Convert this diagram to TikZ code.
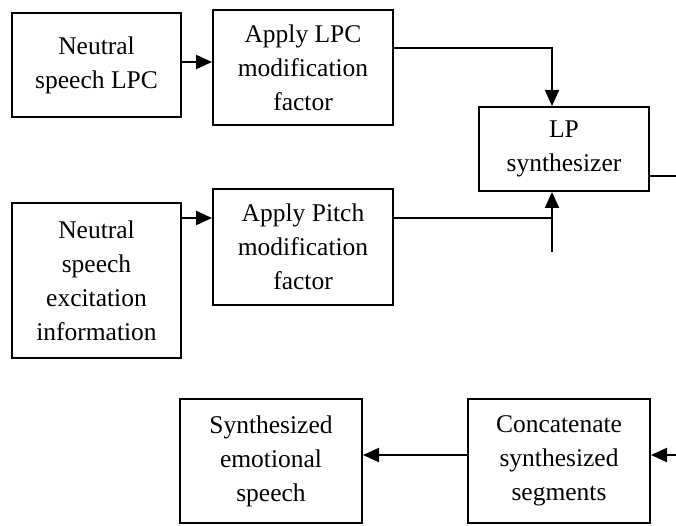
\documentclass[tikz,border=0pt]{standalone}
\usepackage{fontspec}
\setmainfont{Liberation Serif}
\usetikzlibrary{arrows.meta}
\begin{document}
\begin{tikzpicture}[x=1pt,y=1pt,
  blk/.style={draw,line width=2pt,align=center,inner sep=0pt,
    font=\fontsize{25.5}{34}\selectfont},
  conn/.style={line width=2pt},
  arr/.style={conn,-{Triangle[length=16pt,width=14pt]}}]
\useasboundingbox (0,0) rectangle (676,525);
\node[blk,minimum width=169pt,minimum height=104pt] (b1) at (96.5,460) {Neutral\\speech LPC};
\node[blk,minimum width=180pt,minimum height=115pt] (b2) at (303,457.5) {Apply LPC\\modification\\factor};
\node[blk,minimum width=169pt,minimum height=155pt] (b3) at (96.5,244.5) {Neutral\\speech\\excitation\\information};
\node[blk,minimum width=180pt,minimum height=116pt] (b4) at (303,278) {Apply Pitch\\modification\\factor};
\node[blk,minimum width=170pt,minimum height=84pt] (lp) at (564,376) {LP\\synthesizer};
\node[blk,minimum width=182pt,minimum height=124pt] (b5) at (271,64) {Synthesized\\emotional\\speech};
\node[blk,minimum width=182pt,minimum height=124pt] (b6) at (559,64) {Concatenate\\synthesized\\segments};
\coordinate (a1) at (181,463);
\coordinate (a2) at (393,477);
\coordinate (j1) at (552,477);
\coordinate (a3) at (181,307);
\coordinate (j2) at (552,307);
\coordinate (t2) at (552,273);
\coordinate (lpout) at (676,349);
\coordinate (rin) at (676,70);
\draw[arr] (a1) -- (a1 -| b2.west);
\draw[arr] (b2.east |- a2) -- (j1) -- (j1 |- lp.north);
\draw[arr] (a3) -- (a3 -| b4.west);
\draw[conn] (b4.east |- j2) -- (j2);
\draw[arr] (t2) -- (t2 |- lp.south);
\draw[conn] (lp.east |- lpout) -- (lpout);
\draw[arr] (rin) -- (rin -| b6.east);
\draw[arr] (b6.west |- rin) -- (rin -| b5.east);
\end{tikzpicture}
\end{document}
